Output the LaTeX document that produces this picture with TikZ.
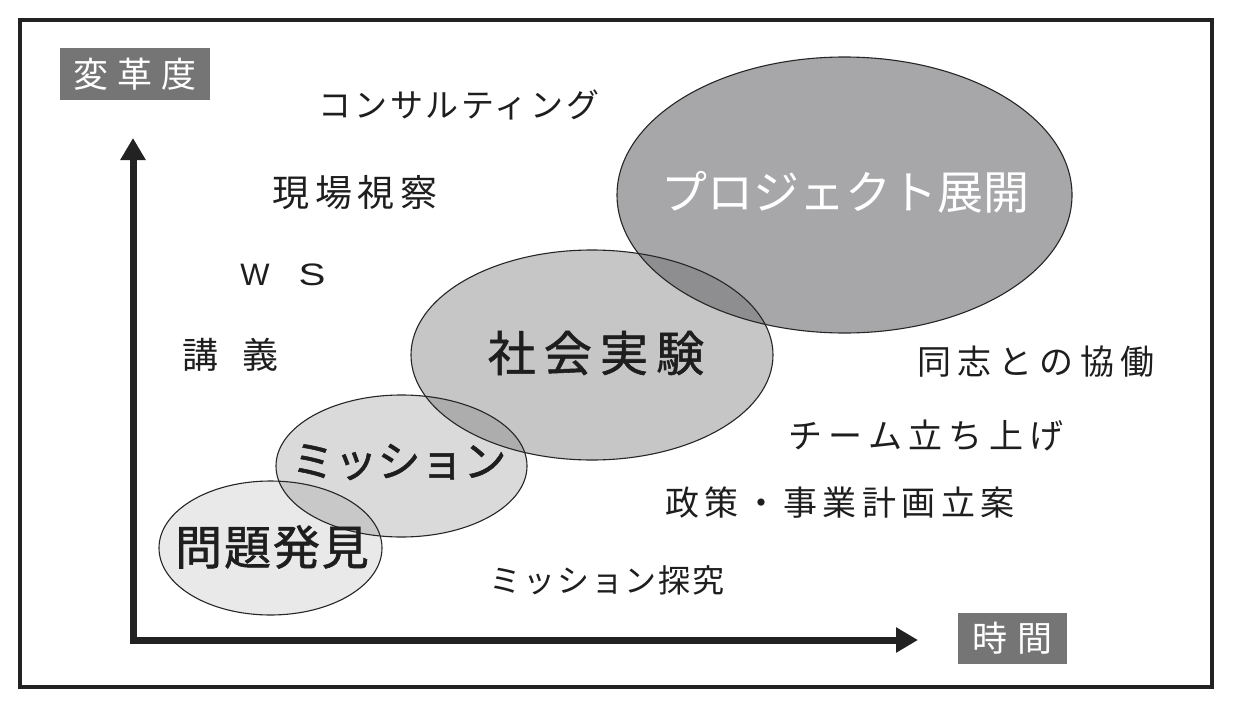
\documentclass[tikz,border=0pt]{standalone}
\usepackage{fontspec}
\usepackage{graphicx}
\usetikzlibrary{arrows.meta}
\setmainfont{Liberation Sans}
\newfontfamily\jp{Noto Sans CJK JP}
\newcommand\jf[2]{\jp\fontsize{#1pt}{#1pt}\selectfont\addfontfeatures{LetterSpace=#2}}
\newcommand\jfb[2]{\jp\fontsize{#1pt}{#1pt}\selectfont\addfontfeatures{LetterSpace=#2,FakeBold=1.2}}
\definecolor{txt}{HTML}{1E1E1E}
\definecolor{frm}{HTML}{222222}
\definecolor{boxg}{HTML}{757575}
\definecolor{cA}{HTML}{E9E9E9}
\definecolor{cB}{HTML}{DADADA}
\definecolor{cC}{HTML}{C6C6C6}
\definecolor{cD}{HTML}{A7A7A9}
\definecolor{cAB}{HTML}{C8C8C8}
\definecolor{cBC}{HTML}{ADADAD}
\definecolor{cCD}{HTML}{8E8E90}
\begin{document}
\begin{tikzpicture}[x=1pt,y=-1pt,
  rA/.style={x radius=111.5,y radius=67},
  rB/.style={x radius=125.5,y radius=71},
  rC/.style={x radius=181,y radius=105},
  rD/.style={x radius=227.5,y radius=138},
  outl/.style={draw=black!85,line width=1.1pt},
  t/.style={inner sep=0pt,text=txt},
  labbox/.style={fill=boxg,inner sep=0pt,text=white,minimum width=150pt,minimum height=52pt},
  axis/.style={line width=7pt,draw=frm,{Triangle[length=22pt,width=24pt]}-{Triangle[length=22pt,width=24pt]}}]
\useasboundingbox (0,0) rectangle (1239,709);
\fill[white] (0,0) rectangle (1239,709);
% frame
\draw[line width=3.5pt,draw=frm] (20,20) rectangle (1212,687);
% axes
\coordinate (o) at (133,640);
\coordinate (ytip) at (133,138);
\coordinate (xtip) at (918,640);
\draw[axis] (ytip) -- (o) -- (xtip);
% axis labels
\node[labbox,font=\jf{35}{26}] (ylab) at (135,74) {変革度};
\node[labbox,font=\jf{35}{28},minimum width=109pt,minimum height=51pt] (xlab) at (1012.5,638.5) {時間};
% ellipses
\coordinate (eA) at (270.5,548);
\coordinate (eB) at (401.5,466);
\coordinate (eC) at (592,355);
\coordinate (eD) at (844.5,195);
\fill[cA] (eA) ellipse [rA];
\fill[cB] (eB) ellipse [rB];
\fill[cC] (eC) ellipse [rC];
\fill[cD] (eD) ellipse [rD];
\begin{scope}
  \clip (eA) ellipse [rA];
  \fill[cAB] (eB) ellipse [rB];
\end{scope}
\begin{scope}
  \clip (eB) ellipse [rB];
  \fill[cBC] (eC) ellipse [rC];
\end{scope}
\begin{scope}
  \clip (eC) ellipse [rC];
  \fill[cCD] (eD) ellipse [rD];
\end{scope}
\draw[outl] (eA) ellipse [rA];
\draw[outl] (eB) ellipse [rB];
\draw[outl] (eC) ellipse [rC];
\draw[outl] (eD) ellipse [rD];
% ellipse labels
\node[t,font=\jfb{47}{4}] (lA) at (272,547) {問題発見};
\node[t,font=\jfb{43}{0}] (lB) at (399,462) {ミッション};
\node[t,font=\jfb{48}{17}] (lC) at (596,353) {社会実験};
\node[t,font=\jf{46}{0},text=white] (lD) at (845,192) {プロジェクト展開};
% other labels
\node[t,font=\jf{33}{8}] (consult) at (459,105) {コンサルティング};
\node[t,font=\jf{37}{16}] (genba) at (355,193) {現場視察};
\node[t,font=\fontsize{31pt}{31pt}\selectfont] (ws) at (283,275) {W\hspace{29pt}\scalebox{1.3}[1]{S}};
\node[t,font=\jf{36}{0}] (kogi) at (230.5,355) {講\hspace{24pt}義};
\node[t,font=\jf{34}{20}] (doshi) at (1036,362) {同志との協働};
\node[t,font=\jf{34}{19}] (team) at (926,435) {チーム立ち上げ};
\node[t,font=\jf{34}{16}] (seisaku) at (840,503) {政策・事業計画立案};
\node[t,font=\jf{32}{6}] (tankyu) at (607,580) {ミッション探究};
\end{tikzpicture}
\end{document}
